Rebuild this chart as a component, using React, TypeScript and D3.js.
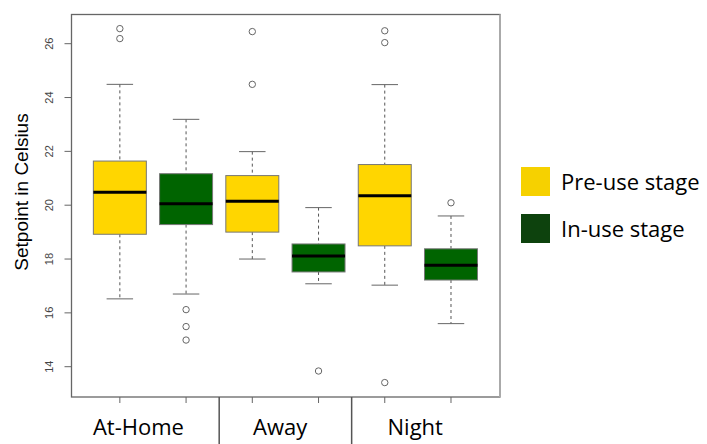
import React from "react";
import { scaleLinear, range } from "d3";

// box order: At-Home pre, At-Home in, Away pre, Away in, Night pre, Night in
const categories = ["At-Home", "Away", "Night"];
const categoryPos = [1.28, 3.42, 5.46];
const stages = ["Pre-use stage", "In-use stage"];
const whiskerLow = [16.52, 16.7, 18.0, 17.08, 17.03, 15.6];
const q1 = [18.92, 19.28, 19.0, 17.52, 18.49, 17.22];
const median = [20.48, 20.05, 20.15, 18.11, 20.35, 17.77];
const q3 = [21.64, 21.17, 21.1, 18.56, 21.51, 18.38];
const whiskerHigh = [24.49, 23.19, 21.99, 19.91, 24.48, 19.6];
const outliers = [
  [26.56, 26.19],
  [16.12, 15.49, 14.99],
  [26.45, 24.49],
  [13.84],
  [26.48, 26.04, 13.41],
  [20.09],
];
const yTicks = [14, 16, 18, 20, 22, 24, 26];

const width = 707;
const height = 444;
const plot = { left: 71.5, right: 500, top: 14.5, bottom: 397 };

const boxFill = ["#FFD600", "#006400"];
const legendFill = ["#F6D100", "#0D420D"];

const App = () => {
  const x = scaleLinear().domain([0.27, 6.74]).range([plot.left, plot.right]);
  const y = scaleLinear().domain([14, 26]).range([366.7, 43.7]);
  const boxW = x(1.8) - x(1);
  const capW = boxW / 2;
  const positions = range(1, 7);

  return (
    <svg
      width={width}
      height={height}
      style={{ position: "fixed", left: 0, top: 0, background: "#fff" }}
      fontFamily="'Liberation Sans', Arial, sans-serif"
    >
      {/* boxes */}
      {positions.map((p, i) => {
        const cx = x(p);
        return (
          <g key={i}>
            <line
              x1={cx}
              x2={cx}
              y1={y(whiskerHigh[i])}
              y2={y(q3[i])}
              stroke="#555"
              strokeDasharray="3,3"
            />
            <line
              x1={cx}
              x2={cx}
              y1={y(q1[i])}
              y2={y(whiskerLow[i])}
              stroke="#555"
              strokeDasharray="3,3"
            />
            <line
              x1={cx - capW / 2}
              x2={cx + capW / 2}
              y1={y(whiskerHigh[i])}
              y2={y(whiskerHigh[i])}
              stroke="#666"
            />
            <line
              x1={cx - capW / 2}
              x2={cx + capW / 2}
              y1={y(whiskerLow[i])}
              y2={y(whiskerLow[i])}
              stroke="#666"
            />
            <rect
              x={cx - boxW / 2}
              y={y(q3[i])}
              width={boxW}
              height={y(q1[i]) - y(q3[i])}
              fill={boxFill[i % 2]}
              stroke="#777"
            />
            <line
              x1={cx - boxW / 2}
              x2={cx + boxW / 2}
              y1={y(median[i])}
              y2={y(median[i])}
              stroke="#000"
              strokeWidth={3}
            />
            {outliers[i].map((o, j) => (
              <circle
                key={j}
                cx={cx}
                cy={y(o)}
                r={3.2}
                fill="none"
                stroke="#666"
                strokeWidth={1}
              />
            ))}
          </g>
        );
      })}

      {/* frame */}
      <rect
        x={plot.left}
        y={plot.top}
        width={plot.right - plot.left}
        height={plot.bottom - plot.top}
        fill="none"
        stroke="#666"
        strokeWidth={1.3}
      />
      <line
        x1={plot.right}
        x2={plot.right}
        y1={plot.top}
        y2={plot.bottom}
        stroke="#aaa"
        strokeWidth={2}
      />

      {/* y axis */}
      {yTicks.map((t) => (
        <g key={t}>
          <line
            x1={plot.left - 7}
            x2={plot.left}
            y1={y(t)}
            y2={y(t)}
            stroke="#666"
          />
          <text
            transform={`translate(53,${y(t)}) rotate(-90)`}
            textAnchor="middle"
            fontSize={11}
            fill="#444"
          >
            {t}
          </text>
        </g>
      ))}
      <text
        transform={`translate(28,${192}) rotate(-90)`}
        textAnchor="middle"
        fontSize={19}
        fill="#000"
      >
        Setpoint in Celsius
      </text>

      {/* x axis */}
      {positions.map((p) => (
        <line
          key={p}
          x1={x(p)}
          x2={x(p)}
          y1={plot.bottom}
          y2={plot.bottom + 6}
          stroke="#666"
        />
      ))}
      {[2.5, 4.5].map((s) => (
        <line
          key={s}
          x1={x(s)}
          x2={x(s)}
          y1={plot.bottom}
          y2={height}
          stroke="#555"
          strokeWidth={1.5}
        />
      ))}
      {categories.map((c, i) => (
        <text
          key={c}
          x={x(categoryPos[i])}
          y={435}
          textAnchor="middle"
          fontSize={22}
          fontFamily="'Open Sans', sans-serif"
          fill="#000"
        >
          {c}
        </text>
      ))}

      {/* legend */}
      {stages.map((s, i) => (
        <g key={s} transform={`translate(521,${167 + i * 47})`}>
          <rect width={29} height={29} fill={legendFill[i]} />
          <text
            x={40}
            y={23}
            fontSize={22}
            fontFamily="'Open Sans', sans-serif"
            fill="#000"
          >
            {s}
          </text>
        </g>
      ))}
    </svg>
  );
};

export default App;
